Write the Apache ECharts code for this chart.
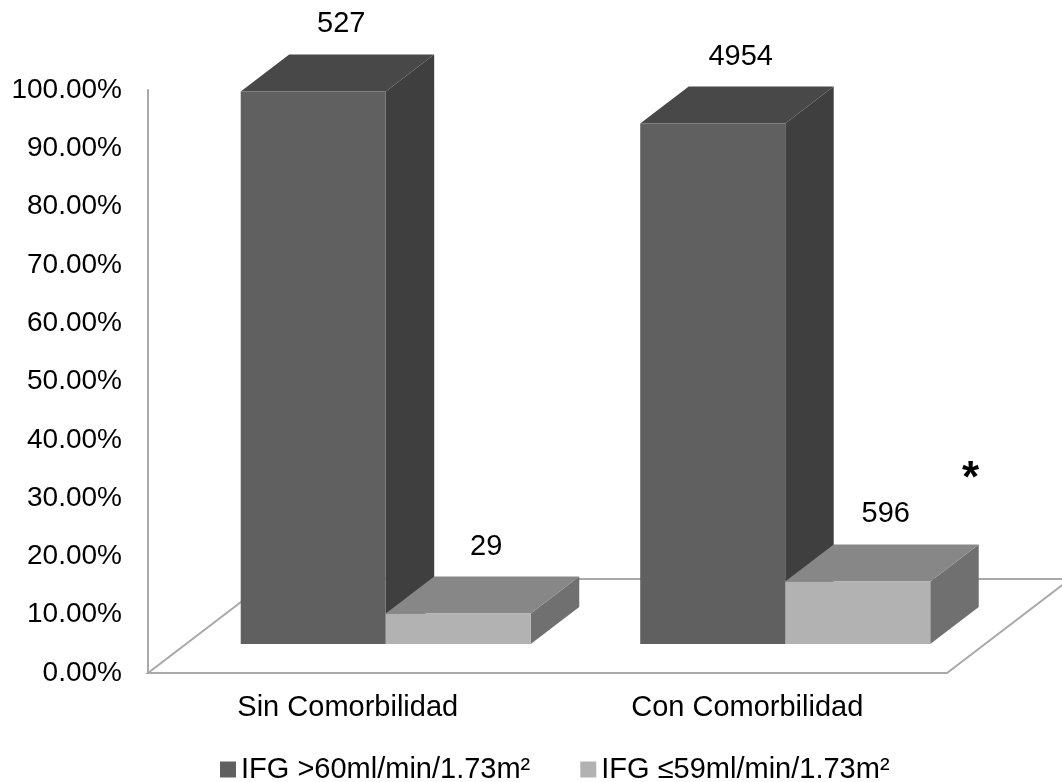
<!DOCTYPE html>
<html>
<head>
<meta charset="utf-8">
<title>IFG por comorbilidad</title>
<script src="https://cdn.jsdelivr.net/npm/echarts@6/dist/echarts.min.js"></script>
<style>
  html, body { margin: 0; padding: 0; background: #ffffff; }
  #chart { width: 1062px; height: 782px; }
</style>
</head>
<body>
<div id="chart"></div>
<script>
// Categories and patient counts per kidney-function group
const categories = ['Sin Comorbilidad', 'Con Comorbilidad'];
const seriesNames = ['IFG >60ml/min/1.73m\u00B2', 'IFG \u226459ml/min/1.73m\u00B2'];
const countsHigh = [527, 4954];   // IFG >60
const countsLow = [29, 596];      // IFG <=59
const yTicks = [0, 0.1, 0.2, 0.3, 0.4, 0.5, 0.6, 0.7, 0.8, 0.9, 1.0];

const FONT = "'Liberation Sans', Arial, sans-serif";

// Oblique 3D look: depth measured in vertical pixels, horizontal shift = depth * SLANT
const SLANT = 1.31;
const FRONT_GAP = 29;    // distance of the bar row behind the floor's front edge
const BAR_DEPTH = 37;    // thickness of each bar
const FLOOR_DEPTH = 94;  // full depth of the floor plane
const BAR_FRACTION = 0.363;

const palette = [
  { front: '#606060', top: '#484848', side: '#3f3f3f' },
  { front: '#b2b2b2', top: '#878787', side: '#707070' }
];

// Share of each group within its category
function shares(counts, other) {
  return counts.map((n, i) => n / (n + other[i]));
}
const pctHigh = shares(countsHigh, countsLow);
const pctLow = shares(countsLow, countsHigh);

function buildData(pcts, counts) {
  return pcts.map((p, i) => [i, p, counts[i]]);
}

function barRenderer(seriesIdx) {
  const col = palette[seriesIdx];
  return function (params, api) {
    const cat = api.value(0);
    const val = api.value(1);
    const count = api.value(2);
    const base = api.coord([cat, 0]);
    const topPt = api.coord([cat, val]);
    const band = api.size([1, 0])[0];
    const w = band * BAR_FRACTION;
    const shiftX = FRONT_GAP * SLANT;
    const x0 = base[0] + shiftX + (seriesIdx === 0 ? -w : 0);
    const yb = base[1] - FRONT_GAP;
    const yt = topPt[1] - FRONT_GAP;
    const dx = BAR_DEPTH * SLANT;
    const dy = BAR_DEPTH;
    return {
      type: 'group',
      children: [
        {
          type: 'polygon',
          shape: { points: [[x0 + w, yt], [x0 + w + dx, yt - dy], [x0 + w + dx, yb - dy], [x0 + w, yb]] },
          style: { fill: col.side }
        },
        {
          type: 'polygon',
          shape: { points: [[x0, yt], [x0 + w, yt], [x0 + w + dx, yt - dy], [x0 + dx, yt - dy]] },
          style: { fill: col.top }
        },
        {
          type: 'rect',
          shape: { x: x0, y: yt, width: w, height: yb - yt },
          style: { fill: col.front }
        },
        {
          type: 'text',
          x: x0 + w / 2 + 28,
          y: yt - dy - 30,
          style: {
            text: String(count),
            fill: '#000000',
            font: '29px ' + FONT,
            align: 'center',
            verticalAlign: 'middle'
          }
        }
      ]
    };
  };
}

function floorRenderer(params, api) {
  const cs = params.coordSys;
  const xl = cs.x, xr = cs.x + cs.width, yf = cs.y + cs.height;
  const ddx = FLOOR_DEPTH * SLANT;
  return {
    type: 'polyline',
    shape: {
      points: [
        [xl + ddx, yf - FLOOR_DEPTH],
        [xl, yf],
        [xr, yf],
        [xr + ddx, yf - FLOOR_DEPTH],
        [xl + ddx, yf - FLOOR_DEPTH]
      ]
    },
    style: { stroke: '#a9a9a9', lineWidth: 2, fill: null }
  };
}

const chart = echarts.init(document.getElementById('chart'), null, { renderer: 'canvas' });

chart.setOption({
  backgroundColor: '#ffffff',
  animation: false,
  textStyle: { fontFamily: FONT },
  grid: { left: 148, right: 115, top: 90, bottom: 109 },
  xAxis: {
    type: 'category',
    data: categories,
    axisLine: { show: false },
    axisTick: { show: false },
    axisLabel: { color: '#000000', fontSize: 29, fontFamily: FONT, margin: 20 }
  },
  yAxis: {
    type: 'value',
    min: 0,
    max: 1,
    interval: 0.1,
    axisLine: { show: true, lineStyle: { color: '#a9a9a9', width: 2 } },
    axisTick: { show: false },
    splitLine: { show: false },
    axisLabel: {
      color: '#000000',
      fontSize: 28,
      fontFamily: FONT,
      margin: 26,
      customValues: yTicks,
      formatter: v => (v * 100).toFixed(2) + '%'
    }
  },
  legend: {
    data: seriesNames,
    left: 215,
    top: 750,
    icon: 'rect',
    itemWidth: 16,
    itemHeight: 16,
    itemGap: 50,
    textStyle: { color: '#000000', fontSize: 29, fontFamily: FONT, padding: [0, 0, 0, 0] }
  },
  graphic: [
    {
      type: 'text',
      left: 962,
      top: 458,
      style: { text: '*', fill: '#000000', font: 'bold 44px ' + FONT }
    }
  ],
  series: [
    {
      type: 'custom',
      name: 'floor',
      renderItem: floorRenderer,
      data: [[0, 0]],
      silent: true,
      z: 1
    },
    {
      type: 'custom',
      name: seriesNames[0],
      itemStyle: { color: palette[0].front },
      renderItem: barRenderer(0),
      encode: { x: 0, y: 1 },
      data: buildData(pctHigh, countsHigh),
      z: 2
    },
    {
      type: 'custom',
      name: seriesNames[1],
      itemStyle: { color: palette[1].front },
      renderItem: barRenderer(1),
      encode: { x: 0, y: 1 },
      data: buildData(pctLow, countsLow),
      z: 3
    }
  ]
});
</script>
</body>
</html>
